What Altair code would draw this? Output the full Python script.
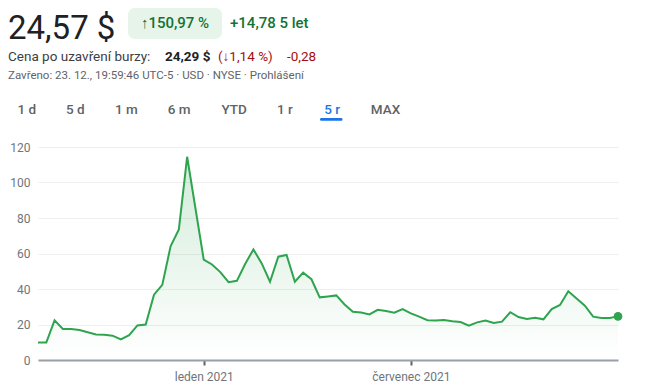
import altair as alt
import pandas as pd

# ---- data ----
prices = [9.8, 9.8, 22.3, 17.5, 17.5, 16.9, 15.6, 14.4, 14.2, 13.7, 11.6, 14.0, 19.5, 20.0,
          36.8, 42.3, 64.0, 73.6, 114.5, 85.5, 56.6, 53.8, 49.5, 43.8, 44.6, 54.1, 62.3,
          54.4, 44.1, 58.2, 59.2, 44.1, 49.2, 45.5, 35.3, 35.8, 36.4, 31.3, 27.2, 26.7,
          25.7, 28.3, 27.6, 26.7, 28.7, 26.3, 24.4, 22.4, 22.2, 22.5, 21.8, 21.4, 19.3,
          21.2, 22.2, 20.8, 21.6, 26.9, 24.2, 23.1, 23.8, 22.9, 28.7, 31.0, 38.7, 34.7,
          30.6, 24.4, 23.7, 23.7, 24.57]
point_index = list(range(len(prices)))
tick_positions = [20, 45]
tick_labels = ["leden 2021", "červenec 2021"]
y_ticks = [0, 20, 40, 60, 80, 100, 120]

price_text = "24,57 $"
change_pct_text = "↑150,97 %"
change_abs_text = "+14,78 5 let"
close_label = "Cena po uzavření burzy:"
close_price = "24,29 $"
close_pct = "(↓1,14 %)"
close_abs = "-0,28"
meta_text = "Zavřeno: 23. 12., 19:59:46 UTC-5 · USD · NYSE · Prohlášení"
ranges = ["1 d", "5 d", "1 m", "6 m", "YTD", "1 r", "5 r", "MAX"]
active_range = "5 r"

# ---- styling ----
GREEN = "#2ea44f"
TEXT_GREEN = "#137333"
RED = "#a50e0e"
DARK = "#202124"
GREY = "#5f6368"
LIGHT_GREY = "#70757a"
BLUE = "#1a73e8"
FONT = "Roboto"

OX, OY = 38, 147  # page position of the plot origin (svg at 8,8 + padding)


def txt(s, px, py, size, color, weight="normal", align="left"):
    return alt.Chart(pd.DataFrame({"t": [s]})).mark_text(
        align=align, baseline="alphabetic", fontSize=size, color=color,
        fontWeight=weight, font=FONT
    ).encode(x=alt.value(px - OX), y=alt.value(py - OY), text="t:N")


def box(x0, y0, x1, y1, color, r):
    return alt.Chart(pd.DataFrame({"a": [0]})).mark_rect(
        color=color, cornerRadius=r
    ).encode(x=alt.value(x0 - OX), x2=alt.value(x1 - OX),
             y=alt.value(y0 - OY), y2=alt.value(y1 - OY))


label_expr = " : ".join(
    f"datum.value == {p} ? '{l}'" for p, l in zip(tick_positions, tick_labels)
) + " : ''"

df = pd.DataFrame({"i": point_index, "p": prices})
base = alt.Chart(df)

x_axis = alt.Axis(values=tick_positions, labelExpr=label_expr, grid=False,
                  domainColor="#9aa0a6", domainWidth=2, tickColor=GREY,
                  tickWidth=2, tickSize=5, labelPadding=6, labelColor=LIGHT_GREY,
                  labelFontSize=12, labelFont=FONT, title=None, labelFlush=False,
                  labelOverlap=False)
y_axis = alt.Axis(values=y_ticks, domain=False, ticks=False, grid=True,
                  gridColor="#eeeeee", gridWidth=1, labelPadding=8,
                  labelColor=LIGHT_GREY, labelFontSize=12, labelFont=FONT, title=None,
                  labelOverlap=False, labelFlush=False)
x_scale = alt.Scale(domain=[0, len(prices) - 1], nice=False, zero=False)
y_scale = alt.Scale(domain=[0, 120], nice=False)


def enc(ch):
    return ch.encode(
        x=alt.X("i:Q", scale=x_scale, axis=x_axis),
        y=alt.Y("p:Q", scale=y_scale, axis=y_axis, stack=None),
    )


gradient = alt.Gradient(
    gradient="linear",
    stops=[alt.GradientStop(color="rgba(52,168,83,0.22)", offset=0),
           alt.GradientStop(color="rgba(52,168,83,0.0)", offset=1)],
    x1=1, x2=1, y1=0, y2=1,
)

area = enc(base.mark_area(color=gradient))
line = enc(base.mark_line(color=GREEN, strokeWidth=2))
dot = enc(base.transform_filter(alt.datum.i == len(prices) - 1).mark_circle(
    size=75, color=GREEN, opacity=1))

layers = [area, line, dot]

# header
layers.append(txt(price_text, 8, 39, 33, DARK))
layers.append(box(128, 8, 222, 39, "#e6f4ea", 7))
layers.append(txt(change_pct_text, 175, 28, 15, TEXT_GREEN, 500, "center"))
layers.append(txt(change_abs_text, 230, 28, 15, TEXT_GREEN, 500))
layers.append(txt(close_label, 8, 61, 13.5, "#3c4043"))
layers.append(txt(close_price, 165, 61, 13.5, DARK, "bold"))
layers.append(txt(close_pct, 218, 61, 13.5, RED))
layers.append(txt(close_abs, 287, 61, 13.5, RED))
layers.append(txt(meta_text, 8, 79, 11.5, GREY))

# range buttons
range_centers = [26.7, 75.3, 126.3, 179.2, 234.2, 284.8, 332.2, 385.5]
for r, cx in zip(ranges, range_centers):
    c = BLUE if r == active_range else GREY
    layers.append(txt(r, cx, 113.5, 13.5, c, 500, "center"))
layers.append(box(320, 118, 342.5, 120.8, BLUE, 1.5))

chart = alt.layer(*layers).properties(
    width=580, height=213,
    autosize=alt.AutoSizeParams(type="none"),
    padding={"left": 30, "top": 139, "right": 20, "bottom": 26},
    background="white",
).configure_view(stroke=None).configure_axisY(labelOverlap=False)

chart.save("out.html", embed_options={"renderer": "svg", "actions": False})
